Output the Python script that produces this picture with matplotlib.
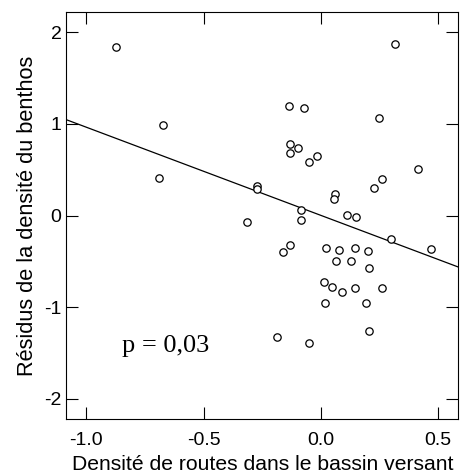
import numpy as np
import matplotlib
matplotlib.use("Agg")
import matplotlib.pyplot as plt

# Data
road_density = [-0.873, 0.315, -0.672, -0.690, -0.138, -0.071, 0.246, -0.132, -0.134,
                -0.098, -0.016, -0.053, 0.415, 0.260, 0.227, -0.271, -0.271, 0.058,
                0.054, -0.085, -0.087, -0.315, 0.111, 0.151, 0.297, 0.469, -0.134,
                -0.162, 0.020, 0.075, 0.143, 0.200, 0.064, 0.128, 0.205, 0.013,
                0.048, 0.089, 0.143, 0.260, 0.016, 0.190, 0.205, -0.189, -0.050]
benthos_resid = [1.841, 1.874, 0.983, 0.408, 1.197, 1.179, 1.066, 0.779, 0.680,
                 0.742, 0.655, 0.579, 0.506, 0.404, 0.298, 0.324, 0.291, 0.237,
                 0.178, 0.062, -0.047, -0.076, 0.004, -0.018, -0.262, -0.368, -0.317,
                 -0.400, -0.357, -0.382, -0.360, -0.389, -0.502, -0.499, -0.575, -0.721,
                 -0.782, -0.830, -0.793, -0.793, -0.957, -0.953, -1.266, -1.332, -1.394]
fit_intercept = 0.001
fit_slope = -0.963

x_ticks = [-1.0, -0.5, 0.0, 0.5]
x_tick_labels = ["-1.0", "-0.5", "0.0", "0.5"]
y_ticks = [-2, -1, 0, 1, 2]
y_tick_labels = ["-2", "-1", "0", "1", "2"]

x_label = "Densité de routes dans le bassin versant"
y_label = "Résidus de la densité du benthos"
p_text = "p = 0,03"

W, H = 466, 475
fig = plt.figure(figsize=(W / 100, H / 100), dpi=100)
plt.rcParams['font.family'] = ['Liberation Sans', 'DejaVu Sans']

ax = fig.add_axes([66 / W, 1 - 419 / H, (458 - 66) / W, (419 - 12) / H])
xlim = (-1.0866, 0.584)
ylim = (-2.222, 2.222)
ax.set_xlim(*xlim)
ax.set_ylim(*ylim)

ax.plot(road_density, benthos_resid, linestyle='none', marker='o', markersize=5.3,
        markerfacecolor='white', markeredgecolor='black', markeredgewidth=0.9,
        clip_on=False, zorder=3)

xx = np.array(xlim)
ax.plot(xx, fit_intercept + fit_slope * xx, color='black', linewidth=0.9, zorder=2)

ax.set_xticks(x_ticks)
ax.set_xticklabels(x_tick_labels)
ax.set_yticks(y_ticks)
ax.set_yticklabels(y_tick_labels)
ax.tick_params(axis='both', direction='in', length=8.6, width=0.8,
               top=True, right=True, labelsize=14, colors='black')
ax.tick_params(axis='x', pad=9.5)
ax.tick_params(axis='y', pad=3.2)
for s in ax.spines.values():
    s.set_linewidth(0.8)

ax.text(-0.849, -1.492, p_text, ha='left', va='baseline',
        family=['Liberation Serif', 'DejaVu Serif'], fontsize=19)

fig.text(72 / W, (H - 469.5) / H, x_label, ha='left', va='baseline', fontsize=15.2)
fig.text(33.3 / W, 1 - 215.5 / H, y_label, ha='center', va='baseline', rotation=90,
         rotation_mode='anchor', fontsize=15.7)

fig.savefig("out.png", dpi=100)
